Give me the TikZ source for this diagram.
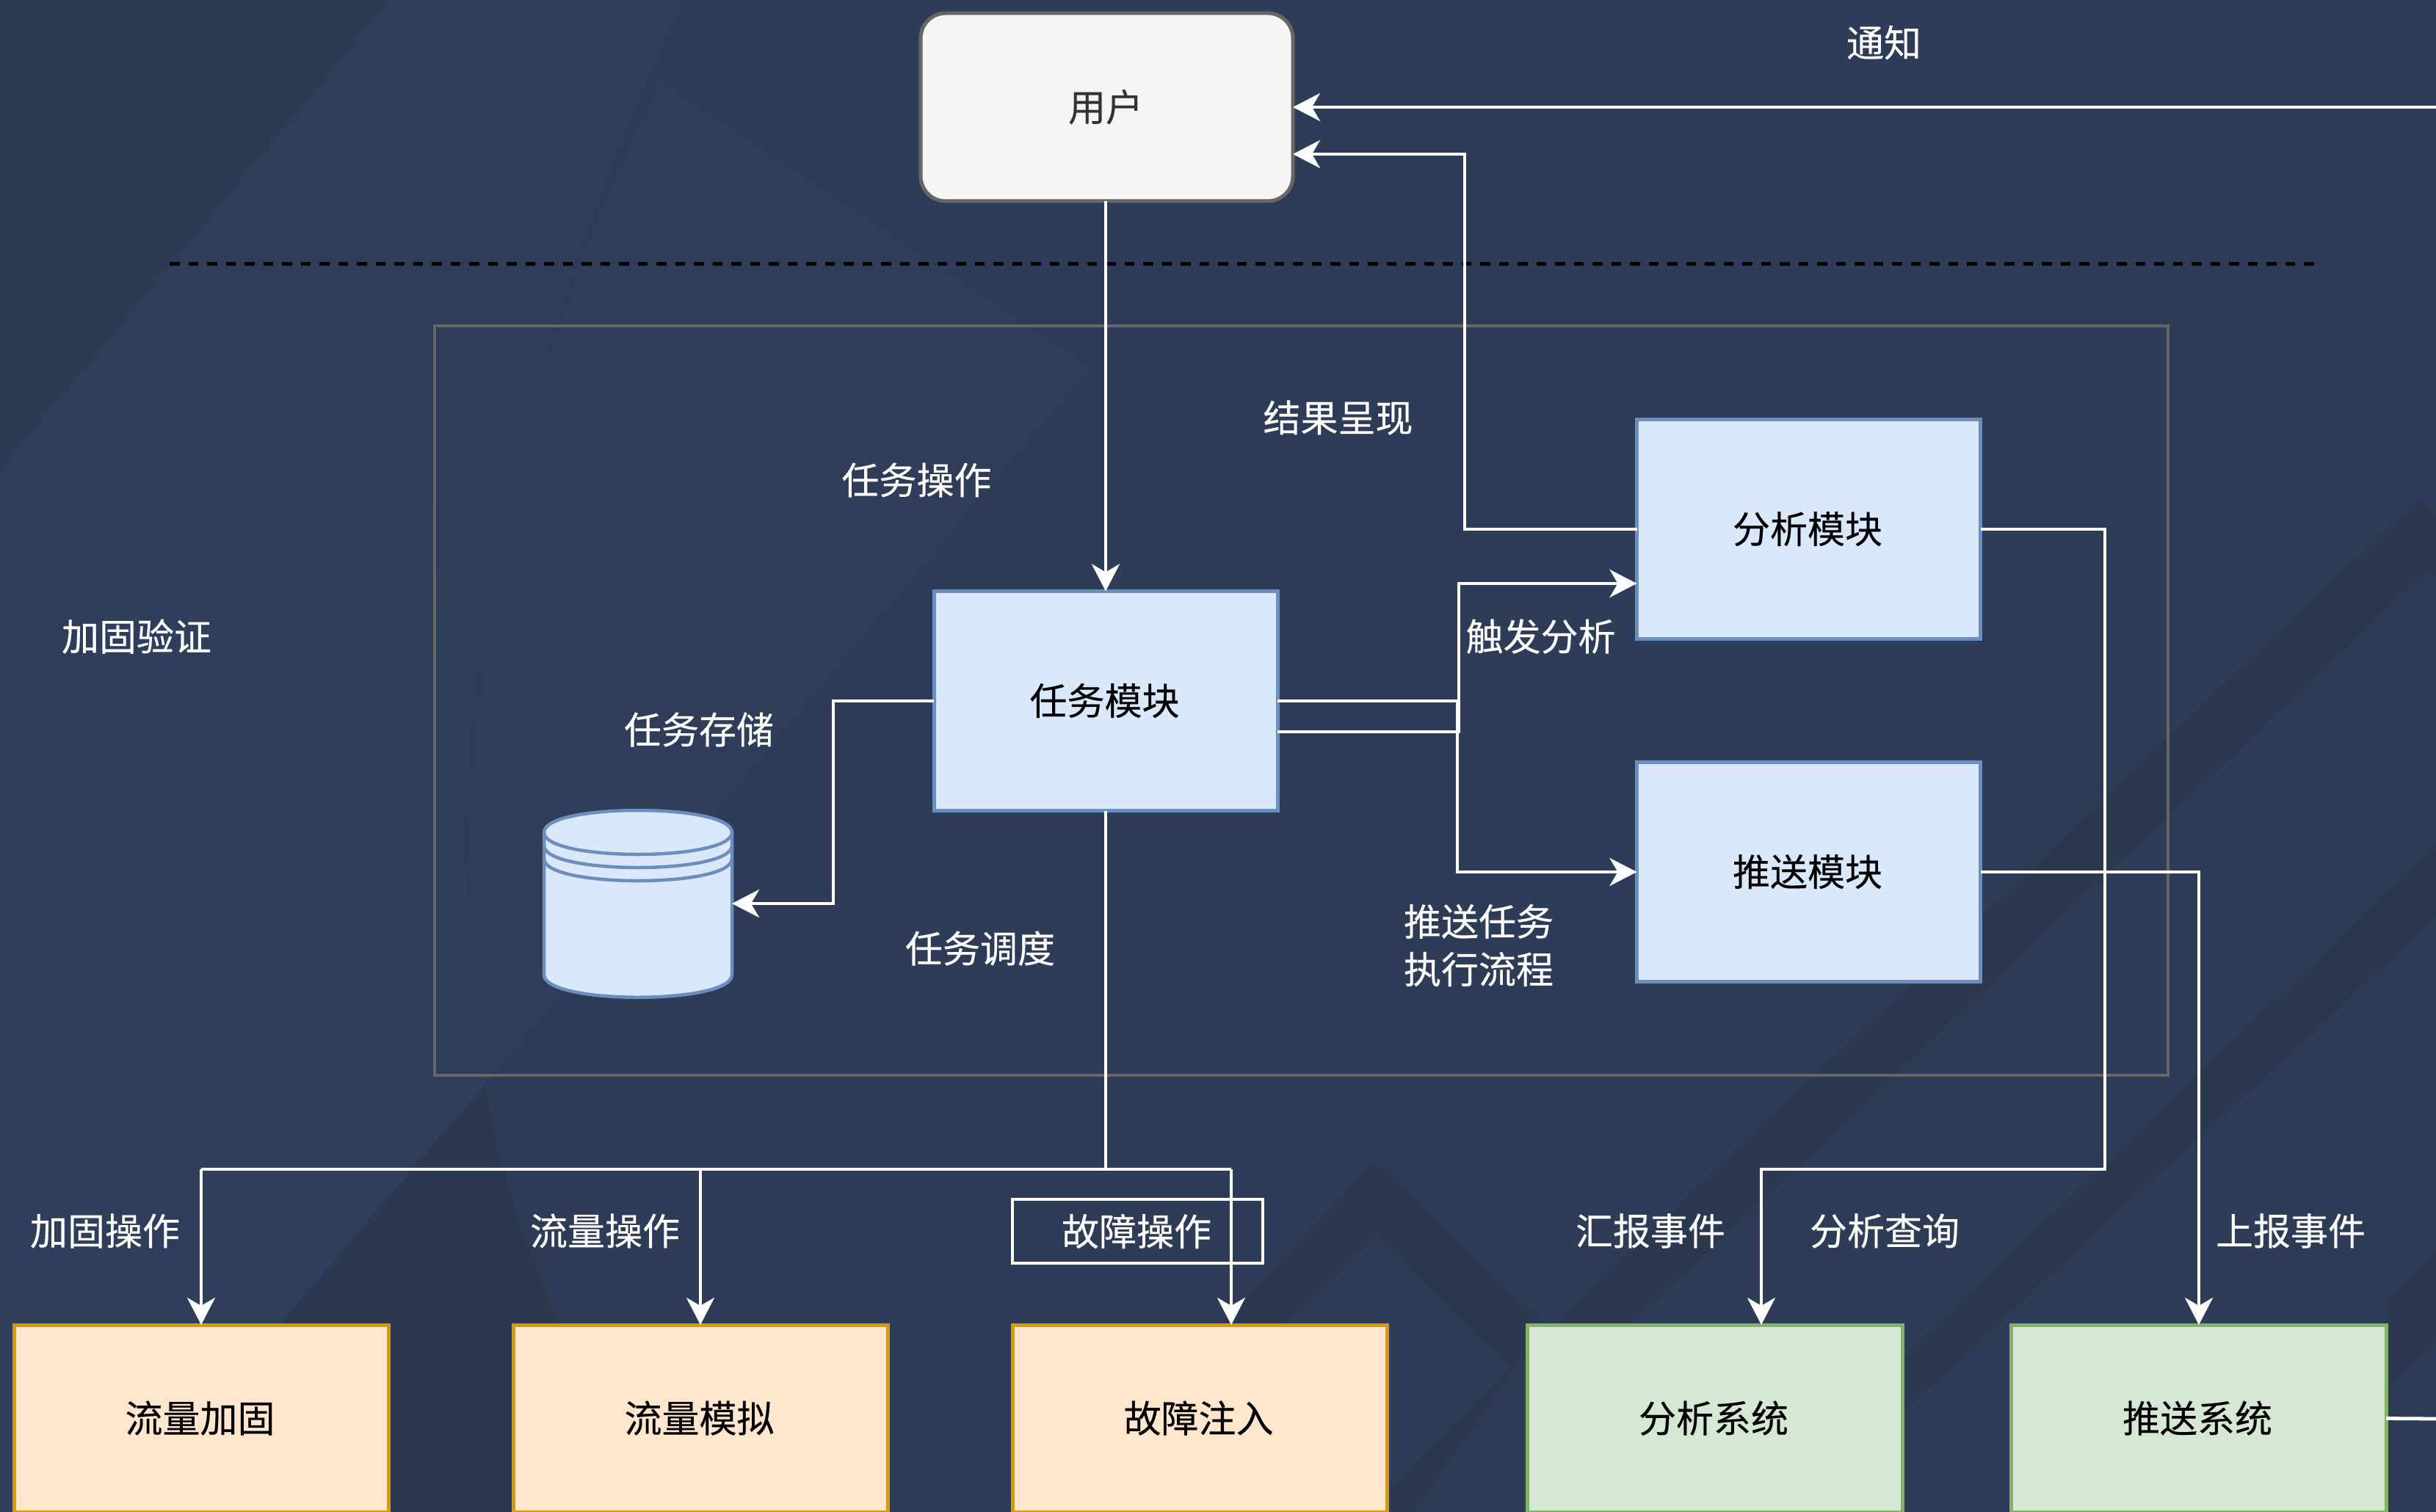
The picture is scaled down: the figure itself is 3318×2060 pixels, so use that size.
\documentclass[tikz,border=0pt]{standalone}
\usepackage{fontspec}
\newfontfamily\cjk[FakeBold=0.25]{Noto Sans CJK SC}
\usetikzlibrary{arrows.meta}
\definecolor{bgbase}{HTML}{2E3C57}
\definecolor{bgdark}{HTML}{2C3750}
\definecolor{bglight}{HTML}{2F3E5A}
\definecolor{bgmid}{HTML}{2F3D58}
\definecolor{bgtop}{HTML}{2D3A54}
\newcommand{\bt}[1]{\raisebox{5pt}{\kern-3pt #1}}
\tikzset{
  box/.style={rectangle,draw,line width=5pt,inner sep=0pt,outer sep=0pt,font=\cjk\fontsize{51}{60}\selectfont,text=black,align=center},
  bluebox/.style={box,fill=blueF,draw=blueS,minimum width=468pt,minimum height=299pt},
  orangebox/.style={box,fill=orangeF,draw=orangeS,minimum width=510pt,minimum height=255pt},
  greenbox/.style={box,fill=greenF,draw=greenS,minimum width=511pt,minimum height=255pt},
  userbox/.style={box,rounded corners=34pt,fill=userF,draw=userS,text=userT,minimum width=507pt,minimum height=256pt},
  lab/.style={inner sep=0pt,outer sep=0pt,font=\cjk\fontsize{51}{65}\selectfont,text=white,align=left},
  wire/.style={draw=white,line width=4.8pt,line join=miter},
  arrow/.style={wire,-{Stealth[length=37pt,width=38pt,inset=11pt]}},
}
\definecolor{blueF}{HTML}{DAE8FC}\definecolor{blueS}{HTML}{6C8EBF}
\definecolor{orangeF}{HTML}{FFE6CC}\definecolor{orangeS}{HTML}{D79B00}
\definecolor{greenF}{HTML}{D5E8D4}\definecolor{greenS}{HTML}{82B366}
\definecolor{userF}{HTML}{F5F5F5}\definecolor{userS}{HTML}{666666}\definecolor{userT}{HTML}{333333}
\begin{document}
\begin{tikzpicture}[x=1pt,y=-1pt]
\useasboundingbox (0,0) rectangle (3318,2060);
\clip (0,0) rectangle (3318,2060);
% background
\fill[bgbase] (0,0) rectangle (3318,2060);
\fill[bgtop] (0,0) -- (531,0) -- (0,640) -- cycle;
\fill[bgmid] (900,112) -- (1485,500) -- (661,1477) .. controls (590,1000) and (700,500) .. cycle;
\fill[bgmid] (0,640) -- (531,0) -- (930,0) .. controls (700,500) and (580,1000) .. (661,1477) -- (380,1805) -- (380,2060) -- (0,2060) -- cycle;
\fill[bglight] (0,1000) -- (560,400) -- (661,1477) -- (380,1805) -- (380,2060) -- (0,2060) -- cycle;
\fill[bgdark] (661,1477) -- (380,1805) -- (380,2060) -- (800,2060) -- (762,1805) .. controls (720,1700) and (680,1600) .. cycle;
% chevron
\fill[bgdark] (1660,1805) -- (1873,1582) -- (2107,1805) -- (1926,2060) -- (1892,2060) -- (1892,2030) -- (2056,1862) -- (1873,1685) -- (1751,1805) -- cycle;
% stripes
\fill[bgdark] (2119,1801) -- (3295,678) -- (3318,700) -- (3318,786) -- (3305,780) -- (2226,1801) -- (2226,2060) -- (2119,2060) -- cycle;
\fill[bgdark] (2594,1848) -- (3318,1149) -- (3318,1252) -- (2594,1922) -- cycle;
\fill[bgdark] (3252,1770) -- (3318,1705) -- (3318,1830) -- (3253,1890) -- cycle;
% frame and divider
\node[rectangle,draw=userS,line width=4pt,minimum width=2361pt,minimum height=1021pt,inner sep=0pt,outer sep=0pt] (frame) at (1772.5,954.5) {};
\coordinate (dashL) at (231,359.5);
\coordinate (dashR) at (3152,359.5);
\draw[black,line width=4.8pt,dash pattern=on 13.5pt off 12pt] (dashL) -- (dashR);
% nodes
\node[userbox] (user) at (1507.5,146) {\bt{用户}};
\node[bluebox] (task) at (1506,955) {\bt{任务模块}};
\node[bluebox] (analysis) at (2463.5,721) {\bt{分析模块}};
\node[bluebox] (push) at (2463.5,1188) {\bt{推送模块}};
\node[orangebox] (hard) at (274,1932.5) {\bt{流量加固}};
\node[orangebox] (sim) at (954,1932.5) {\bt{流量模拟}};
\node[orangebox] (fault) at (1634,1932.5) {\bt{故障注入}};
\node[greenbox] (asys) at (2335.5,1932.5) {\bt{分析系统}};
\node[greenbox] (psys) at (2994.5,1932.5) {\bt{推送系统}};
% database
\node[rectangle,minimum width=256pt,minimum height=256pt,inner sep=0pt,outer sep=0pt] (db) at (869,1231) {};
\draw[line width=4.5pt,draw=blueS,fill=blueF] (741,1134) -- (741,1328) .. controls (741,1369) and (997,1369) .. (997,1328) -- (997,1134) .. controls (997,1094) and (741,1094) .. cycle;
\foreach \d in {0,18,36}
  \draw[line width=4.5pt,draw=blueS] (741,1134+\d) .. controls (741,1174+\d) and (997,1174+\d) .. (997,1134+\d);
% fault label box
\node[rectangle,draw=white,line width=4.8pt,minimum width=341pt,minimum height=87pt,inner sep=0pt,outer sep=0pt,font=\cjk\fontsize{51}{60}\selectfont,text=white] (faultlab) at (1549.5,1677.5) {\kern-3pt 故障操作};
% free ends and bends
\coordinate (notifyR) at (3318,146);
\coordinate (psysR) at (3318,1933);
\coordinate (busL) at (274,1593);
\coordinate (busM) at (1506,1593);
% connectors
\draw[arrow] (user.south -| task.north) -- (task.north);
\draw[arrow] (notifyR) -- (user.east);
\draw[arrow] (analysis.west) -- (1995,721) -- (1995,210) -- ([yshift=-64pt]user.east);
\draw[arrow] ([yshift=-42pt]task.east) -- (1987,997) -- (1987,795) -- (analysis.west |- 0,795);
\draw[arrow] (task.east) -- (1985,955) -- (1985,1188) -- (push.west);
\draw[arrow] (task.west) -- (1135,955) -- (1135,1231) -- (db.east);
\draw[wire] (task.south) -- (busM);
\draw[arrow] (busL) -- (hard.north);
\draw[wire] (busL) -- (1677,1593);
\draw[arrow] (954,1593) -- (sim.north);
\draw[arrow] (1677,1593) -- (1677,1805);
\draw[arrow] (analysis.east) -- (2867,721) -- (2867,1593) -- (2399,1593) -- (2399,1805);
\draw[arrow] (push.east) -- (2995,1188) -- (2995,1805);
\draw[wire] (psys.east) -- (psysR);
% labels
\node[lab] (n1) at (2566,58) {通知};
\node[lab] (n2) at (1248.5,654) {任务操作};
\node[lab] (n3) at (1822.5,569) {结果呈现};
\node[lab] (n4) at (186,867) {加固验证};
\node[lab] (n5) at (952,994) {任务存储};
\node[lab] (n6) at (2098.5,867) {触发分析};
\node[lab] (n7) at (1335,1292) {任务调度};
\node[lab] (n8) at (2014,1288) {推送任务\\执行流程};
\node[lab] (n9) at (143,1677) {加固操作};
\node[lab] (n10) at (824,1677) {流量操作};
\node[lab] (n11) at (2248,1677) {汇报事件};
\node[lab] (n12) at (2567,1677) {分析查询};
\node[lab] (n13) at (3120,1677) {上报事件};
\end{tikzpicture}
\end{document}
